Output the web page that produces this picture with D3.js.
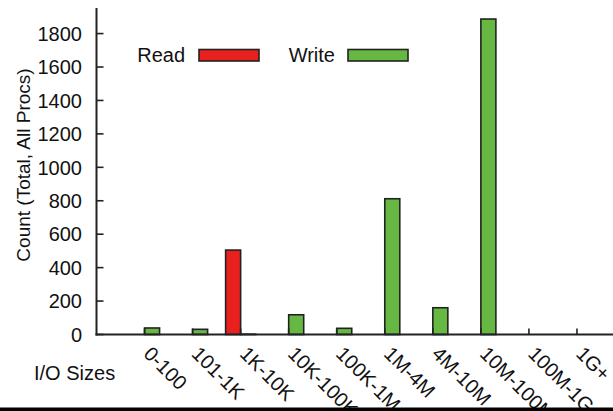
<!DOCTYPE html>
<html>
<head>
<meta charset="utf-8">
<script src="https://cdn.jsdelivr.net/npm/d3@7/dist/d3.min.js"></script>
<style>
  html, body { margin: 0; padding: 0; background: #fff; }
  svg { display: block; }
  text { font-family: "Liberation Sans", Arial, Helvetica, sans-serif; fill: #111; }
</style>
</head>
<body>
<svg id="chart" width="613" height="411"></svg>
<script>
// I/O size buckets and per-bucket operation counts
const categories = ["0-100", "101-1K", "1K-10K", "10K-100K", "100K-1M", "1M-4M", "4M-10M", "10M-100M", "100M-1G", "1G+"];
const readCounts  = [0, 0, 505, 0, 0, 0, 0, 0, 0, 0];
const writeCounts = [39, 31, 2, 118, 37, 812, 160, 1887, 0, 0];
const yTicks = [0, 200, 400, 600, 800, 1000, 1200, 1400, 1600, 1800];
const seriesNames = ["Read", "Write"];
const seriesColors = ["#e8211f", "#67b843"];

const svg = d3.select("#chart");
const W = 613, H = 411;
const plotLeft = 96.5, plotRight = 613, plotTop = 8, plotBottom = 334.5;

// category index -> pixel (bucket centre)
const x = d3.scaleLinear().domain([-1, 9.75]).range([plotLeft, plotRight]);
const y = d3.scaleLinear().domain([0, 1953]).range([plotBottom, plotTop]);
const barW = 15 / 48; // bar width in category units

const series = [readCounts, writeCounts];

// bars
series.forEach((vals, s) => {
  svg.append("g").selectAll("rect")
    .data(vals)
    .join("rect")
    .attr("x", (d, i) => s === 0 ? x(i - barW) : x(i))
    .attr("width", x(barW) - x(0))
    .attr("y", d => y(d))
    .attr("height", d => y(0) - y(d))
    .attr("fill", seriesColors[s])
    .attr("stroke", "#222")
    .attr("stroke-width", 1.6);
});

// y axis
svg.append("line")
  .attr("x1", plotLeft).attr("x2", plotLeft).attr("y1", plotTop).attr("y2", plotBottom + 1)
  .attr("stroke", "#222").attr("stroke-width", 2);
const yt = svg.append("g");
yt.selectAll("line").data(yTicks).join("line")
  .attr("x1", plotLeft).attr("x2", plotLeft + 7)
  .attr("y1", d => y(d)).attr("y2", d => y(d))
  .attr("stroke", "#222").attr("stroke-width", 1.6);
yt.selectAll("text").data(yTicks).join("text")
  .attr("x", 82).attr("y", d => y(d)).attr("dy", "0.36em")
  .attr("text-anchor", "end").attr("font-size", 20)
  .text(d => d);

// x axis
svg.append("line")
  .attr("x1", plotLeft - 1).attr("x2", plotRight).attr("y1", plotBottom).attr("y2", plotBottom)
  .attr("stroke", "#222").attr("stroke-width", 2);
const xt = svg.append("g");
xt.selectAll("line").data(categories).join("line")
  .attr("x1", (d, i) => x(i)).attr("x2", (d, i) => x(i))
  .attr("y1", plotBottom).attr("y2", plotBottom - 6)
  .attr("stroke", "#222").attr("stroke-width", 1.6);
xt.selectAll("text").data(categories).join("text")
  .attr("transform", (d, i) => `translate(${x(i) - 2},355) rotate(45)`)
  .attr("font-size", 20)
  .text(d => d);

// axis titles
svg.append("text")
  .attr("x", 34).attr("y", 380)
  .attr("font-size", 20)
  .text("I/O Sizes");
svg.append("text")
  .attr("transform", "translate(30,165) rotate(-90)")
  .attr("text-anchor", "middle")
  .attr("font-size", 19)
  .text("Count (Total, All Procs)");

// legend
const legendTextEnd = [185, 335];
const legendSwatch = [199, 348];
seriesNames.forEach((name, s) => {
  svg.append("text")
    .attr("x", legendTextEnd[s]).attr("y", 62)
    .attr("text-anchor", "end").attr("font-size", 20)
    .text(name);
  svg.append("rect")
    .attr("x", legendSwatch[s]).attr("y", 49.5)
    .attr("width", 60).attr("height", 11.5)
    .attr("fill", seriesColors[s])
    .attr("stroke", "#222").attr("stroke-width", 1.6);
});

// bottom rule
svg.append("rect")
  .attr("x", 0).attr("y", 407.5).attr("width", W).attr("height", H - 407.5)
  .attr("fill", "#000");
</script>
</body>
</html>
